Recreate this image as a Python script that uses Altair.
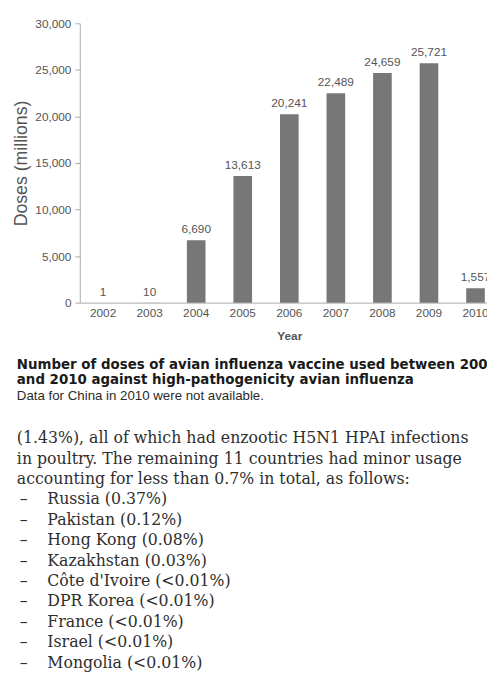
import altair as alt
import pandas as pd

years = ["2002", "2003", "2004", "2005", "2006", "2007", "2008", "2009", "2010"]
doses = [1, 10, 6690, 13613, 20241, 22489, 24659, 25721, 1557]
y_ticks = [0, 5000, 10000, 15000, 20000, 25000, 30000]

caption_title = [
    "Number of doses of avian influenza vaccine used between 2002",
    "and 2010 against high-pathogenicity avian influenza",
]
caption_note = ["Data for China in 2010 were not available."]

para_lines = [
    "(1.43%), all of which had enzootic H5N1 HPAI infections",
    "in poultry. The remaining 11 countries had minor usage",
    "accounting for less than 0.7% in total, as follows:",
]
list_items = [
    "Russia (0.37%)",
    "Pakistan (0.12%)",
    "Hong Kong (0.08%)",
    "Kazakhstan (0.03%)",
    "Côte d'Ivoire (<0.01%)",
    "DPR Korea (<0.01%)",
    "France (<0.01%)",
    "Israel (<0.01%)",
    "Mongolia (<0.01%)",
]

bars_df = pd.DataFrame({"Year": years, "Doses": doses})
bars_df["label"] = [f"{v:,}" for v in doses]

title_df = pd.DataFrame({"row": list(range(len(caption_title))), "text": caption_title})
note_df = pd.DataFrame({"row": [len(caption_title) + i for i in range(len(caption_note))], "text": caption_note})
para_df = pd.DataFrame({"row": list(range(len(para_lines))), "text": para_lines})
list_df = pd.DataFrame({"row": [len(para_lines) + i for i in range(len(list_items))], "text": list_items})
list_df["dash"] = "–"

AX_FONT = "Liberation Sans, Arial, sans-serif"
SANS = "Liberation Sans, Arial, sans-serif"
BOLD_SANS = "DejaVu Sans, Liberation Sans, Arial, sans-serif"
SERIF = "DejaVu Serif, Liberation Serif, serif"
BODY_SIZE = 16

x_enc = alt.X(
    "Year:N",
    sort=years,
    scale=alt.Scale(range=[0, 426], paddingInner=0.6, paddingOuter=0.3),
    axis=alt.Axis(
        title="Year", labelAngle=0, ticks=False, domainColor="#aaaaaa",
        labelFont=AX_FONT, labelFontSize=12, labelColor="#555555", labelPadding=5,
        titleFont=AX_FONT, titleFontSize=12, titleColor="#555555", titleFontWeight="bold",
        titlePadding=12,
    ),
)
y_enc = alt.Y(
    "Doses:Q",
    scale=alt.Scale(domain=[0, 30000]),
    axis=alt.Axis(
        title="Doses (millions)", values=y_ticks, format=",.0f", grid=False,
        domainColor="#aaaaaa", tickColor="#aaaaaa", tickSize=5,
        labelFont=AX_FONT, labelFontSize=12, labelColor="#555555", labelPadding=4,
        titleFont=AX_FONT, titleFontSize=18, titleColor="#555555", titleFontWeight="normal",
        titlePadding=4,
    ),
)

bars = alt.Chart(bars_df).mark_bar(color="#777777").encode(x=x_enc, y=y_enc)
labels = alt.Chart(bars_df).mark_text(
    baseline="bottom", dy=-4, font=AX_FONT, fontSize=12, color="#555555"
).encode(x=alt.X("Year:N", sort=years), y="Doses:Q", text="label:N")
plot = alt.layer(bars, labels)

cap_scale = alt.Scale(domain=[0, 2], range=[347, 379])
cap_title = alt.Chart(title_df).mark_text(
    align="left", baseline="middle", font=BOLD_SANS, fontSize=13.6, fontWeight="bold", color="#1a1a1a"
).encode(x=alt.value(-64), y=alt.Y("row:Q", scale=cap_scale, axis=None), text="text:N")
cap_note = alt.Chart(note_df).mark_text(
    align="left", baseline="middle", font=SANS, fontSize=13.5, color="#2a2a2a"
).encode(x=alt.value(-64), y=alt.Y("row:Q", scale=cap_scale, axis=None), text="text:N")
caption_group = alt.layer(cap_title, cap_note)

body_scale = alt.Scale(domain=[0, 11], range=[422, 650])
para = alt.Chart(para_df).mark_text(
    align="left", baseline="middle", font=SERIF, fontSize=BODY_SIZE, color="#2e2e2e"
).encode(x=alt.value(-64), y=alt.Y("row:Q", scale=body_scale, axis=None), text="text:N")
dash = alt.Chart(list_df).mark_text(
    align="left", baseline="middle", font=SERIF, fontSize=BODY_SIZE, color="#2e2e2e"
).encode(x=alt.value(-61), y=alt.Y("row:Q", scale=body_scale, axis=None), text="dash:N")
items = alt.Chart(list_df).mark_text(
    align="left", baseline="middle", font=SERIF, fontSize=BODY_SIZE, color="#2e2e2e"
).encode(x=alt.value(-33), y=alt.Y("row:Q", scale=body_scale, axis=None), text="text:N")
body_group = alt.layer(para, dash, items)

chart = alt.layer(plot, caption_group, body_group).resolve_scale(y="independent").properties(
    width=414,
    height=284,
    autosize=alt.AutoSizeParams(type="none"),
    padding={"left": 73, "top": 10, "right": 0, "bottom": 372},
    background="white",
).configure_view(stroke=None)

chart.save("out.html", embed_options={"renderer": "svg", "actions": False})
